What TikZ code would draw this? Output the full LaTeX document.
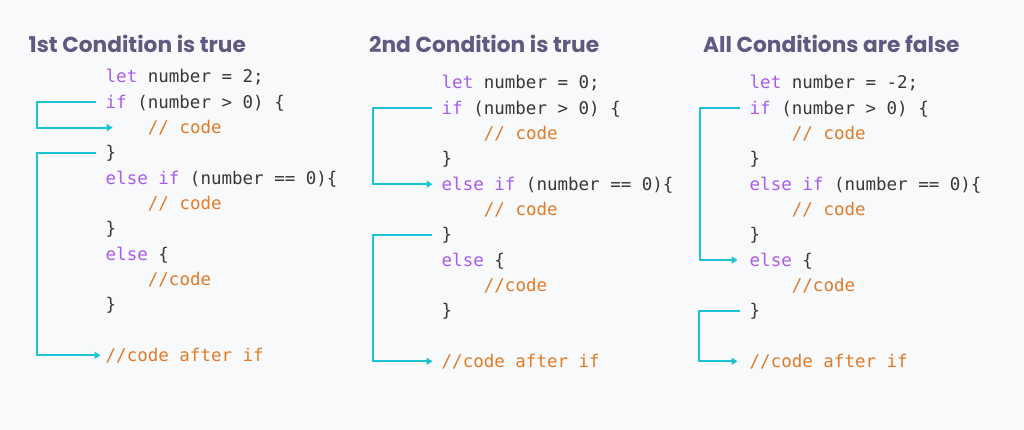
\documentclass[tikz,border=0pt]{standalone}
\usepackage{fontspec}
\usetikzlibrary{arrows.meta}
\newfontfamily\codefont{DejaVu Sans Mono}
\newfontfamily\titlefont{Poppins}
\definecolor{bgc}{HTML}{F8F9FB}
\definecolor{titlec}{HTML}{5E5A80}
\definecolor{codec}{HTML}{383838}
\definecolor{kwc}{HTML}{A95CEC}
\definecolor{cmc}{HTML}{E07B28}
\definecolor{flowc}{HTML}{1BC4D3}
\newcommand\kw[1]{\textcolor{kwc}{#1}}
\newcommand\cm[1]{\textcolor{cmc}{#1}}
\tikzset{
  code/.style={anchor=base west, inner sep=0pt, text=codec, font=\codefont\fontsize{17.5}{20}\selectfont},
  ttl/.style={anchor=base west, inner sep=0pt, text=titlec, font=\titlefont\bfseries\fontsize{21.7}{25}\selectfont},
  flow/.style={draw=flowc, line width=2pt, -{Triangle[length=6pt,width=7pt]}}
}
\newcommand\codepanel[4]{%
  \node[code] (#1l0) at (#2,#3) {\kw{let} number = #4;};
  \node[code] (#1l1) at (#2,#3+25.3) {\kw{if} (number > 0) \{};
  \node[code] (#1l2) at (#2+42.2,#3+50.6) {\cm{// code}};
  \node[code] (#1l3) at (#2,#3+75.9) {\}};
  \node[code] (#1l4) at (#2,#3+101.2) {\kw{else if} (number == 0)\{};
  \node[code] (#1l5) at (#2+42.2,#3+126.5) {\cm{// code}};
  \node[code] (#1l6) at (#2,#3+151.8) {\}};
  \node[code] (#1l7) at (#2,#3+177.1) {\kw{else} \{};
  \node[code] (#1l8) at (#2+42.2,#3+202.4) {\cm{//code}};
  \node[code] (#1l9) at (#2,#3+227.7) {\}};
  \node[code] (#1l11) at (#2,#3+278.3) {\cm{//code after if}};
}
\begin{document}
\begin{tikzpicture}[x=1pt,y=-1pt]
\fill[bgc] (0,0) rectangle (1024,430);
\useasboundingbox (0,0) rectangle (1024,430);
% titles
\node[ttl] (t1) at (28.5,52.3) {1st Condition is true};
\node[ttl] (t2) at (369,52.3) {2nd Condition is true};
\node[ttl] (t3) at (703,52.3) {All Conditions are false};
% code
\codepanel{a}{105.5}{83}{2}
\codepanel{b}{441.5}{89}{0}
\codepanel{c}{749.5}{89}{-2}
% panel 1 arrows
\draw[flow] ([xshift=-10pt,yshift=6pt]al1.base west) -- ++(-59,0) |- ([xshift=-35pt,yshift=6pt]al2.base west);
\draw[flow] ([xshift=-10pt,yshift=6pt]al3.base west) -- ++(-59,0) |- ([xshift=-5pt,yshift=6pt]al11.base west);
% panel 2 arrows
\draw[flow] ([xshift=-10pt,yshift=6pt]bl1.base west) -- ++(-59,0) |- ([xshift=-9pt,yshift=6pt]bl4.base west);
\draw[flow] ([xshift=-10pt,yshift=6pt]bl6.base west) -- ++(-59,0) |- ([xshift=-9pt,yshift=6pt]bl11.base west);
% panel 3 arrows
\draw[flow] ([xshift=-10pt,yshift=6pt]cl1.base west) -- ++(-40,0) |- ([xshift=-12pt,yshift=6pt]cl7.base west);
\draw[flow] ([xshift=-10pt,yshift=6pt]cl9.base west) -- ++(-41,0) |- ([xshift=-12pt,yshift=6pt]cl11.base west);
\end{tikzpicture}
\end{document}
